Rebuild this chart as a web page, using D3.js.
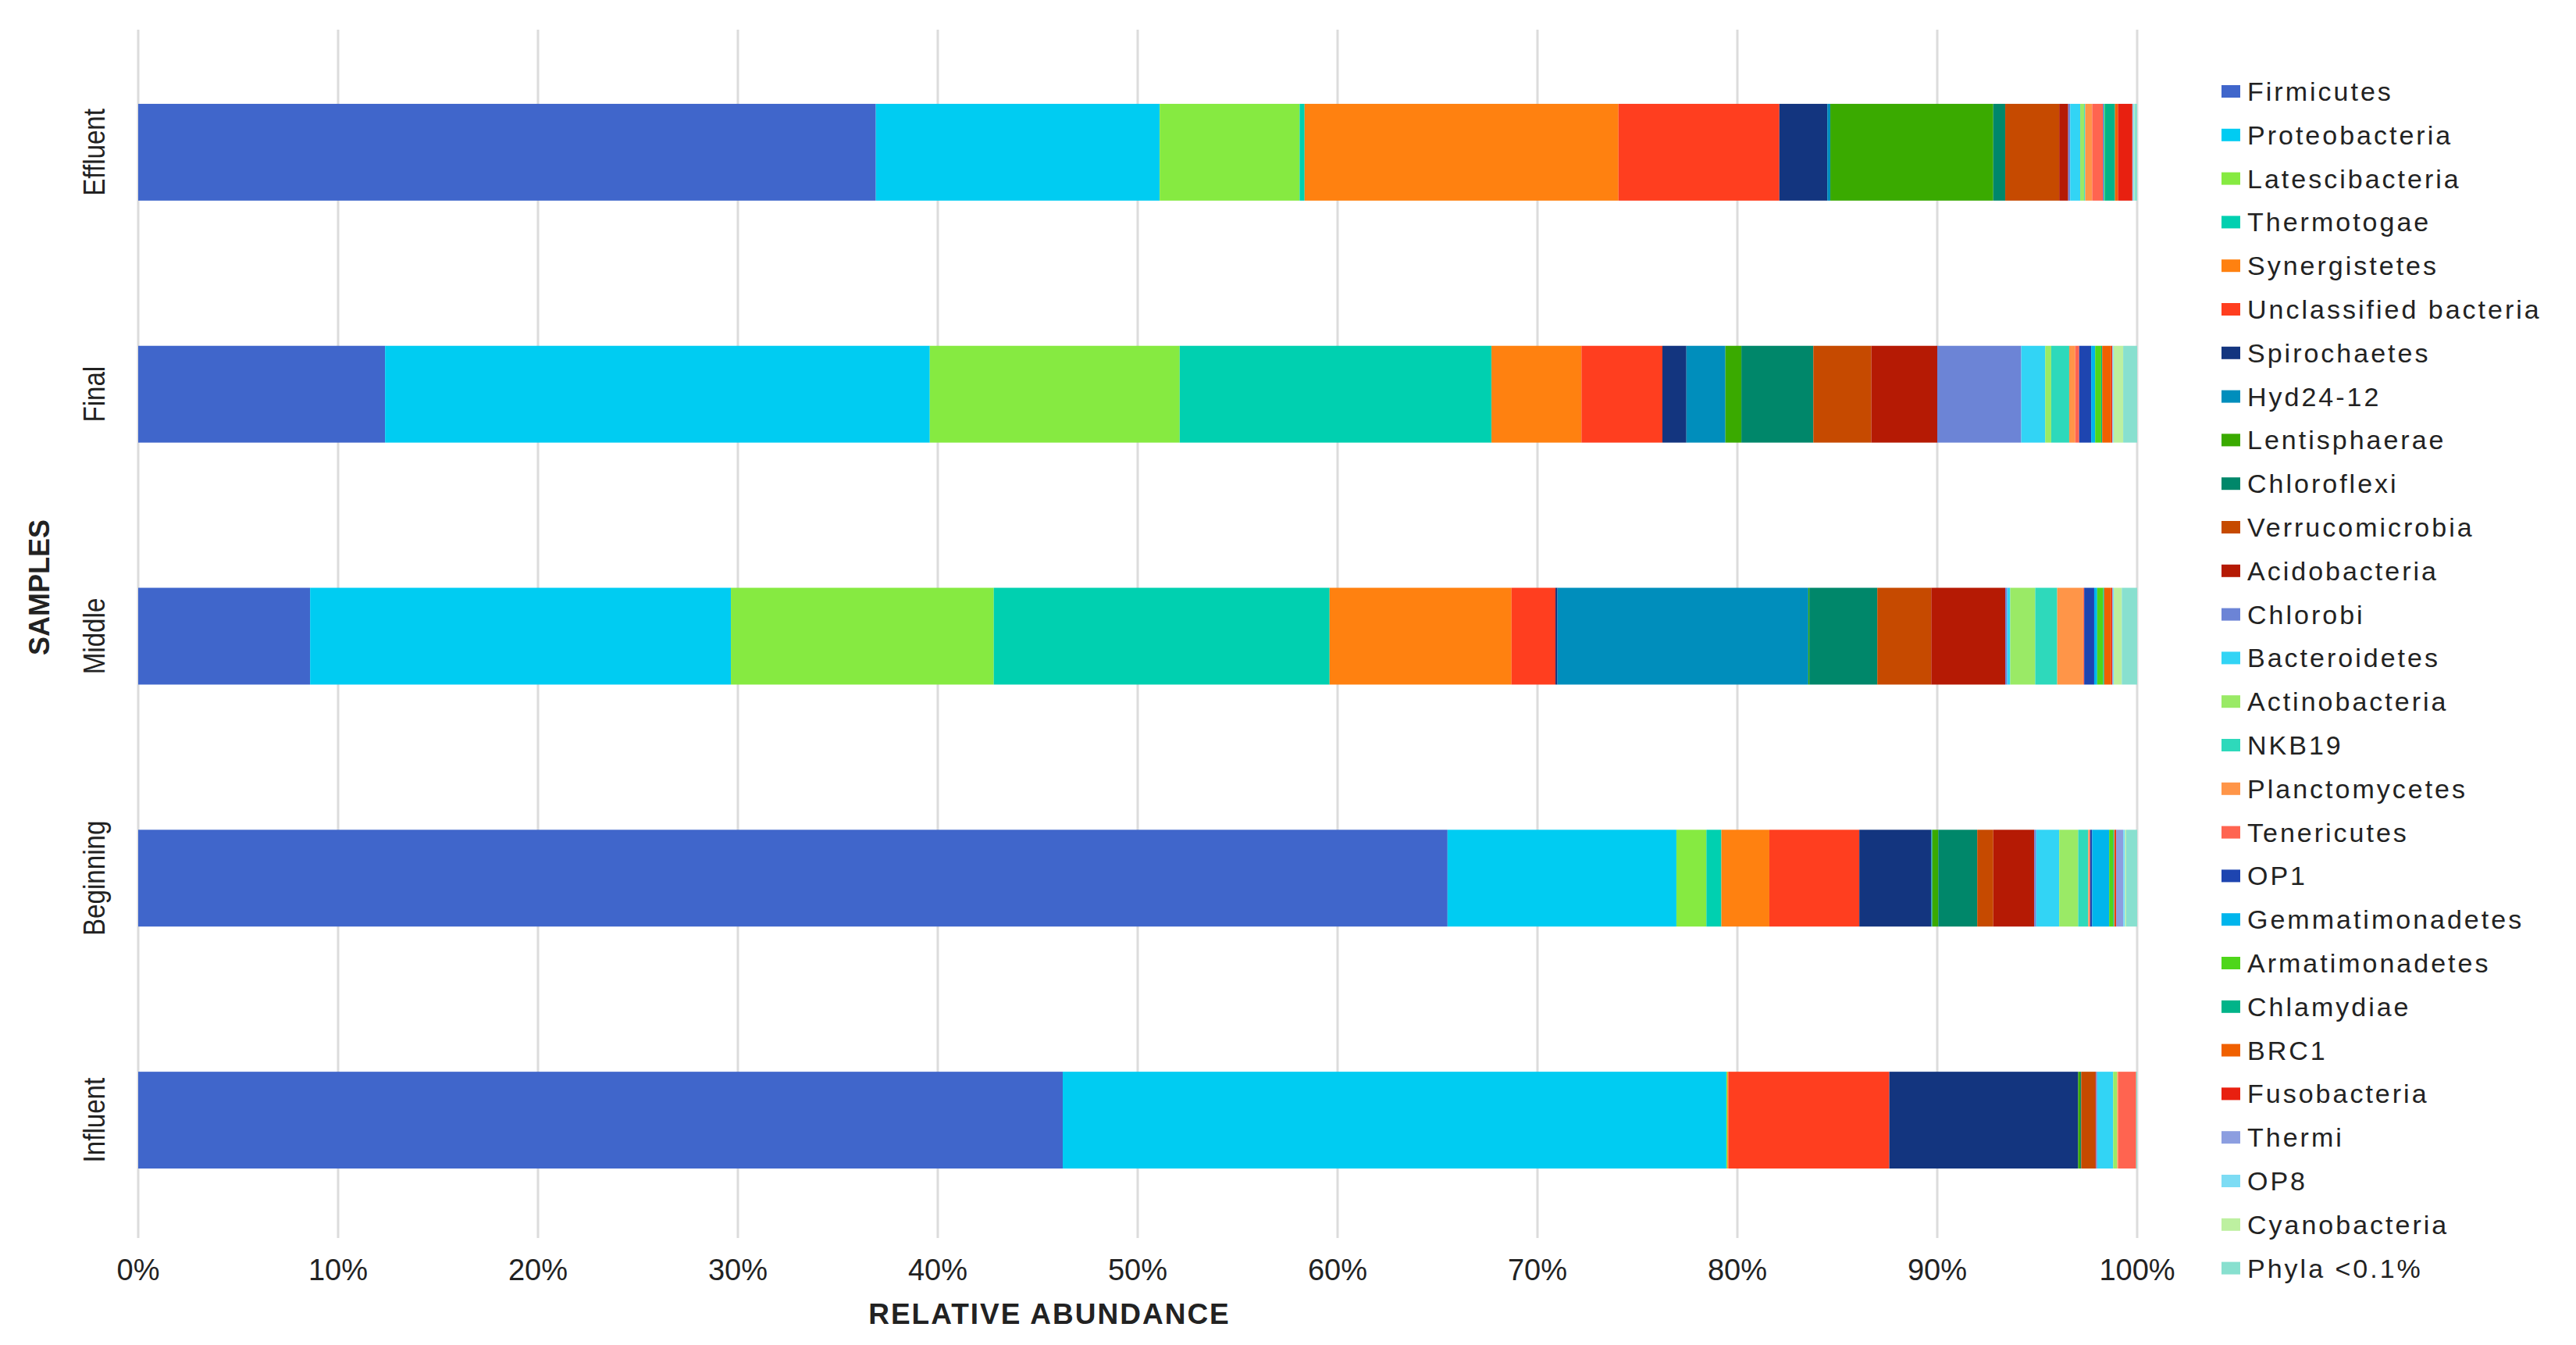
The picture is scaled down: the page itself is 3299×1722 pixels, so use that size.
<!DOCTYPE html>
<html>
<head>
<meta charset="utf-8">
<script src="https://cdn.jsdelivr.net/npm/d3@7"></script>
<style>
  body { margin: 0; background: #fff; }
  text { font-family: "Liberation Sans", Arial, sans-serif; fill: #222; }
</style>
</head>
<body>
<svg id="chart"></svg>
<script>
// samples, top to bottom
const samples = ["Effluent", "Final", "Middle", "Beginning", "Influent"];

const phyla = [
  "Firmicutes", "Proteobacteria", "Latescibacteria", "Thermotogae", "Synergistetes",
  "Unclassified bacteria", "Spirochaetes", "Hyd24-12", "Lentisphaerae", "Chloroflexi",
  "Verrucomicrobia", "Acidobacteria", "Chlorobi", "Bacteroidetes", "Actinobacteria",
  "NKB19", "Planctomycetes", "Tenericutes", "OP1", "Gemmatimonadetes",
  "Armatimonadetes", "Chlamydiae", "BRC1", "Fusobacteria", "Thermi",
  "OP8", "Cyanobacteria", "Phyla <0.1%"
];

const colors = [
  "#4066cb", "#00ccf2", "#86ea41", "#00d0b0", "#ff8110",
  "#ff3e1f", "#13357f", "#008ebc", "#3aaa00", "#00876a",
  "#c64a00", "#b51a04", "#6c84d6", "#32d4f5", "#9aea66",
  "#2ed9bb", "#ff9548", "#ff6450", "#1e45b0", "#00b5ec",
  "#4ed61a", "#00b489", "#f06000", "#e82010", "#8c9ee0",
  "#7ddcf4", "#bdf0a0", "#88e0cf"
];

// relative abundance (%) per sample, same order as phyla
const effluent = [36.9, 14.2, 7.0, 0.25, 15.7, 8.05, 2.4, 0.15, 8.15, 0.6,
  2.7, 0.45, 0.1, 0.5, 0.2, 0.05, 0.35, 0.55, 0.03, 0.03,
  0.03, 0.5, 0.15, 0.72, 0.03, 0.05, 0.03, 0.13];
const final = [12.35, 27.25, 12.5, 15.6, 4.5, 4.05, 1.2, 1.95, 0.8, 3.6,
  2.9, 3.3, 4.2, 1.2, 0.3, 0.9, 0.3, 0.2, 0.6, 0.2,
  0.3, 0.05, 0.45, 0.05, 0.02, 0.05, 0.48, 0.7];
const middle = [8.6, 21.05, 13.15, 16.8, 9.1, 2.2, 0.1, 12.55, 0.05, 3.4,
  2.7, 3.7, 0.1, 0.15, 1.25, 1.1, 1.3, 0.05, 0.5, 0.15,
  0.3, 0.05, 0.35, 0.05, 0.03, 0.05, 0.4, 0.77];
const beginning = [65.5, 11.45, 1.5, 0.75, 2.4, 4.5, 3.6, 0.05, 0.3, 1.95,
  0.8, 2.05, 0.1, 1.15, 0.95, 0.5, 0.05, 0.05, 0.1, 0.85,
  0.2, 0.05, 0.05, 0.05, 0.35, 0.1, 0.05, 0.55];
const influent = [46.25, 33.2, 0.05, 0, 0.05, 8.05, 9.45, 0, 0.1, 0.05,
  0.7, 0.05, 0.05, 0.8, 0.2, 0, 0.05, 0.9, 0, 0,
  0, 0, 0, 0, 0, 0, 0, 0.05];

const sampleValues = [effluent, final, middle, beginning, influent];
const xTicks = [0, 10, 20, 30, 40, 50, 60, 70, 80, 90, 100];

const width = 3299, height = 1722;

const svg = d3.select("#chart")
  .attr("width", width)
  .attr("height", height);

// table for the stack
const table = samples.map((s, i) => {
  const row = { sample: s };
  phyla.forEach((p, j) => { row[p] = sampleValues[i][j]; });
  return row;
});

const x = d3.scaleLinear().domain([0, 100]).range([177, 2737]);
const y = d3.scaleBand()
  .domain(samples)
  .range([40, 1589])
  .paddingInner(0.6)
  .paddingOuter(0.3);
const color = d3.scaleOrdinal().domain(phyla).range(colors);

// gridlines
svg.append("g")
  .selectAll("line")
  .data(xTicks)
  .join("line")
  .attr("x1", d => x(d))
  .attr("x2", d => x(d))
  .attr("y1", 38)
  .attr("y2", 1585)
  .attr("stroke", "#dcdcdc")
  .attr("stroke-width", 3);

// bars
const series = d3.stack().keys(phyla)(table);

svg.append("g")
  .selectAll("g")
  .data(series)
  .join("g")
  .attr("fill", d => color(d.key))
  .selectAll("rect")
  .data(d => d)
  .join("rect")
  .attr("x", d => x(d[0]))
  .attr("y", d => y(d.data.sample))
  .attr("width", d => Math.max(0, x(d[1]) - x(d[0])))
  .attr("height", y.bandwidth());

// x tick labels
svg.append("g")
  .selectAll("text")
  .data(xTicks)
  .join("text")
  .attr("x", d => x(d))
  .attr("y", 1639)
  .attr("text-anchor", "middle")
  .style("font-size", "38px")
  .text(d => d + "%");

svg.append("text")
  .attr("x", 1344)
  .attr("y", 1695)
  .attr("text-anchor", "middle")
  .style("font-size", "37px")
  .style("font-weight", "bold")
  .style("letter-spacing", "2px")
  .text("RELATIVE ABUNDANCE");

// sample labels
svg.append("g")
  .selectAll("text")
  .data(samples)
  .join("text")
  .attr("transform", d => `translate(134,${y(d) + y.bandwidth() / 2}) rotate(-90) scale(0.85,1)`)
  .attr("text-anchor", "middle")
  .style("font-size", "39px")
  .text(d => d);

svg.append("text")
  .attr("transform", "translate(63,752) rotate(-90)")
  .attr("text-anchor", "middle")
  .style("font-size", "36px")
  .style("font-weight", "bold")
  .text("SAMPLES");

// legend
const legend = svg.append("g")
  .selectAll("g")
  .data(phyla)
  .join("g")
  .attr("transform", (d, i) => `translate(2845,${117 + i * 55.8})`);

legend.append("rect")
  .attr("x", 0)
  .attr("y", -8)
  .attr("width", 24)
  .attr("height", 16)
  .attr("fill", d => color(d));

legend.append("text")
  .attr("x", 33)
  .attr("y", 12)
  .style("font-size", "34px")
  .style("letter-spacing", "3px")
  .text(d => d);
</script>
</body>
</html>
